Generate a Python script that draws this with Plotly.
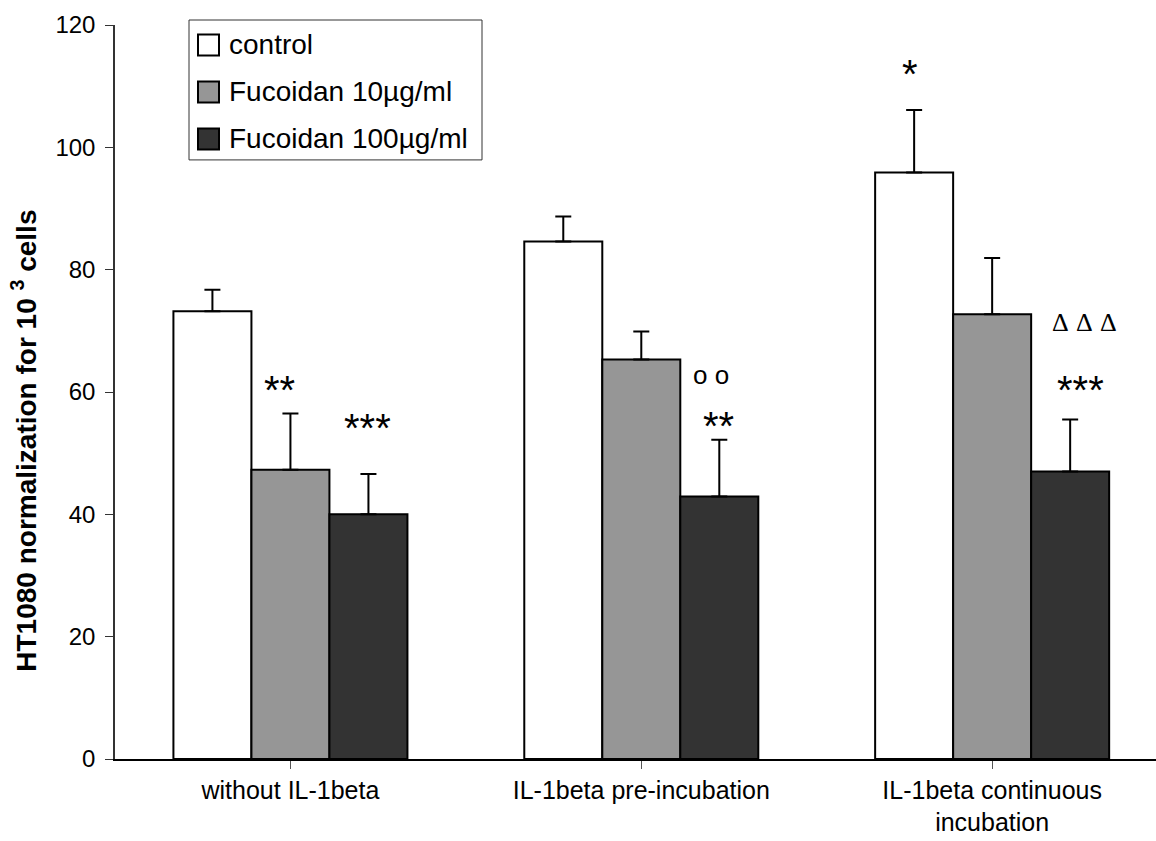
import plotly.graph_objects as go

categories = ["without IL-1beta", "IL-1beta pre-incubation", "IL-1beta continuous<br>incubation"]
series_names = ["control", "Fucoidan 10µg/ml", "Fucoidan 100µg/ml"]
control = [73.2, 84.6, 95.9]
control_err = [3.5, 4.1, 10.2]
fuc10 = [47.3, 65.3, 72.7]
fuc10_err = [9.2, 4.6, 9.2]
fuc100 = [40.0, 42.9, 47.0]
fuc100_err = [6.6, 9.3, 8.5]
y_ticks = [0, 20, 40, 60, 80, 100, 120]
y_title = "HT1080 normalization for 10 <sup>3</sup> cells"

# significance marks: text, category index, offset within category, y value
marks_text = ["**", "***", "o o", "**", "*", "Δ \u200aΔ \u200aΔ", "***"]
marks_cat = [0, 0, 1, 1, 2, 2, 2]
marks_off = [-0.03, 0.22, 0.2, 0.22, -0.235, 0.263, 0.253]
marks_y = [61.8, 55.6, 62.8, 55.9, 113.5, 71.3, 61.8]

colors = ["#ffffff", "#969696", "#333333"]
values = [control, fuc10, fuc100]
errors = [control_err, fuc10_err, fuc100_err]

FONT = "Liberation Sans, Arial, sans-serif"
W, H = 1156, 841
ML, MR, MT, MB = 115, 0, 25, 81.5

fig = go.Figure()
for name, vals, errs, col in zip(series_names, values, errors, colors):
    fig.add_trace(go.Bar(
        x=list(range(len(categories))), y=vals, name=name,
        marker=dict(color=col, line=dict(color="black", width=2)),
        error_y=dict(type="data", array=errs, arrayminus=[0] * len(errs),
                     symmetric=False, color="black", thickness=2, width=8),
        showlegend=False,
    ))

for t, c, off, y in zip(marks_text, marks_cat, marks_off, marks_y):
    is_delta = "Δ" in t
    is_o = t.startswith("o")
    fig.add_annotation(
        x=c + off, y=y, xref="x", yref="y", text=t, showarrow=False,
        xanchor="center", yanchor="middle",
        yshift=(0 if (is_delta or is_o) else -9),
        font=dict(family=("Liberation Serif, Times New Roman, serif" if is_delta else FONT),
                  size=(26 if is_delta else (26 if is_o else 40)), color="black"),
    )

# pixel -> paper helpers
pw = W - ML - MR
ph = H - MT - MB
def px(xp):
    return (xp - ML) / pw
def py(yp):
    return (H - MB - yp) / ph

# manual legend
fig.add_shape(type="rect", xref="paper", yref="paper",
              x0=px(189), x1=px(482), y0=py(160), y1=py(20),
              line=dict(color="#333333", width=1), fillcolor="white", layer="above")
row_y = [45, 92, 139]
for name, col, ry in zip(series_names, colors, row_y):
    fig.add_shape(type="rect", xref="paper", yref="paper",
                  x0=px(198), x1=px(219), y0=py(ry + 10.5), y1=py(ry - 10.5),
                  line=dict(color="black", width=2), fillcolor=col, layer="above")
    fig.add_annotation(x=px(227), y=py(ry), xref="paper", yref="paper", text=name,
                       showarrow=False, xanchor="left", yanchor="middle",
                       font=dict(family=FONT, size=28, color="black"))

# y axis title as rotated annotation
fig.add_annotation(x=px(24), y=py(441), xref="paper", yref="paper",
                   text="<b>" + y_title + "</b>", textangle=-90, showarrow=False,
                   xanchor="center", yanchor="middle",
                   font=dict(family=FONT, size=28, color="black"))

fig.update_layout(
    width=W, height=H,
    margin=dict(l=ML, r=MR, t=MT, b=MB, pad=0),
    paper_bgcolor="white", plot_bgcolor="white",
    barmode="group", bargap=0.333, bargroupgap=0,
    font=dict(family=FONT, color="black"),
    showlegend=False,
)
fig.update_xaxes(
    tickmode="array", tickvals=list(range(len(categories))), ticktext=categories,
    range=[-0.5, 2.467], showline=True, linecolor="black", linewidth=1.5,
    ticks="outside", tickson="boundaries", ticklen=8, tickcolor="#555555",
    tickfont=dict(size=25, family=FONT), showgrid=False, zeroline=False,
)
fig.update_yaxes(
    range=[0, 120], tickvals=y_ticks, showline=True, linecolor="#333333", linewidth=1.5,
    ticks="outside", ticklen=8, tickcolor="#333333", ticklabelstandoff=5,
    tickfont=dict(size=24, family=FONT), showgrid=False, zeroline=False,
)

fig.write_html("out.html")
